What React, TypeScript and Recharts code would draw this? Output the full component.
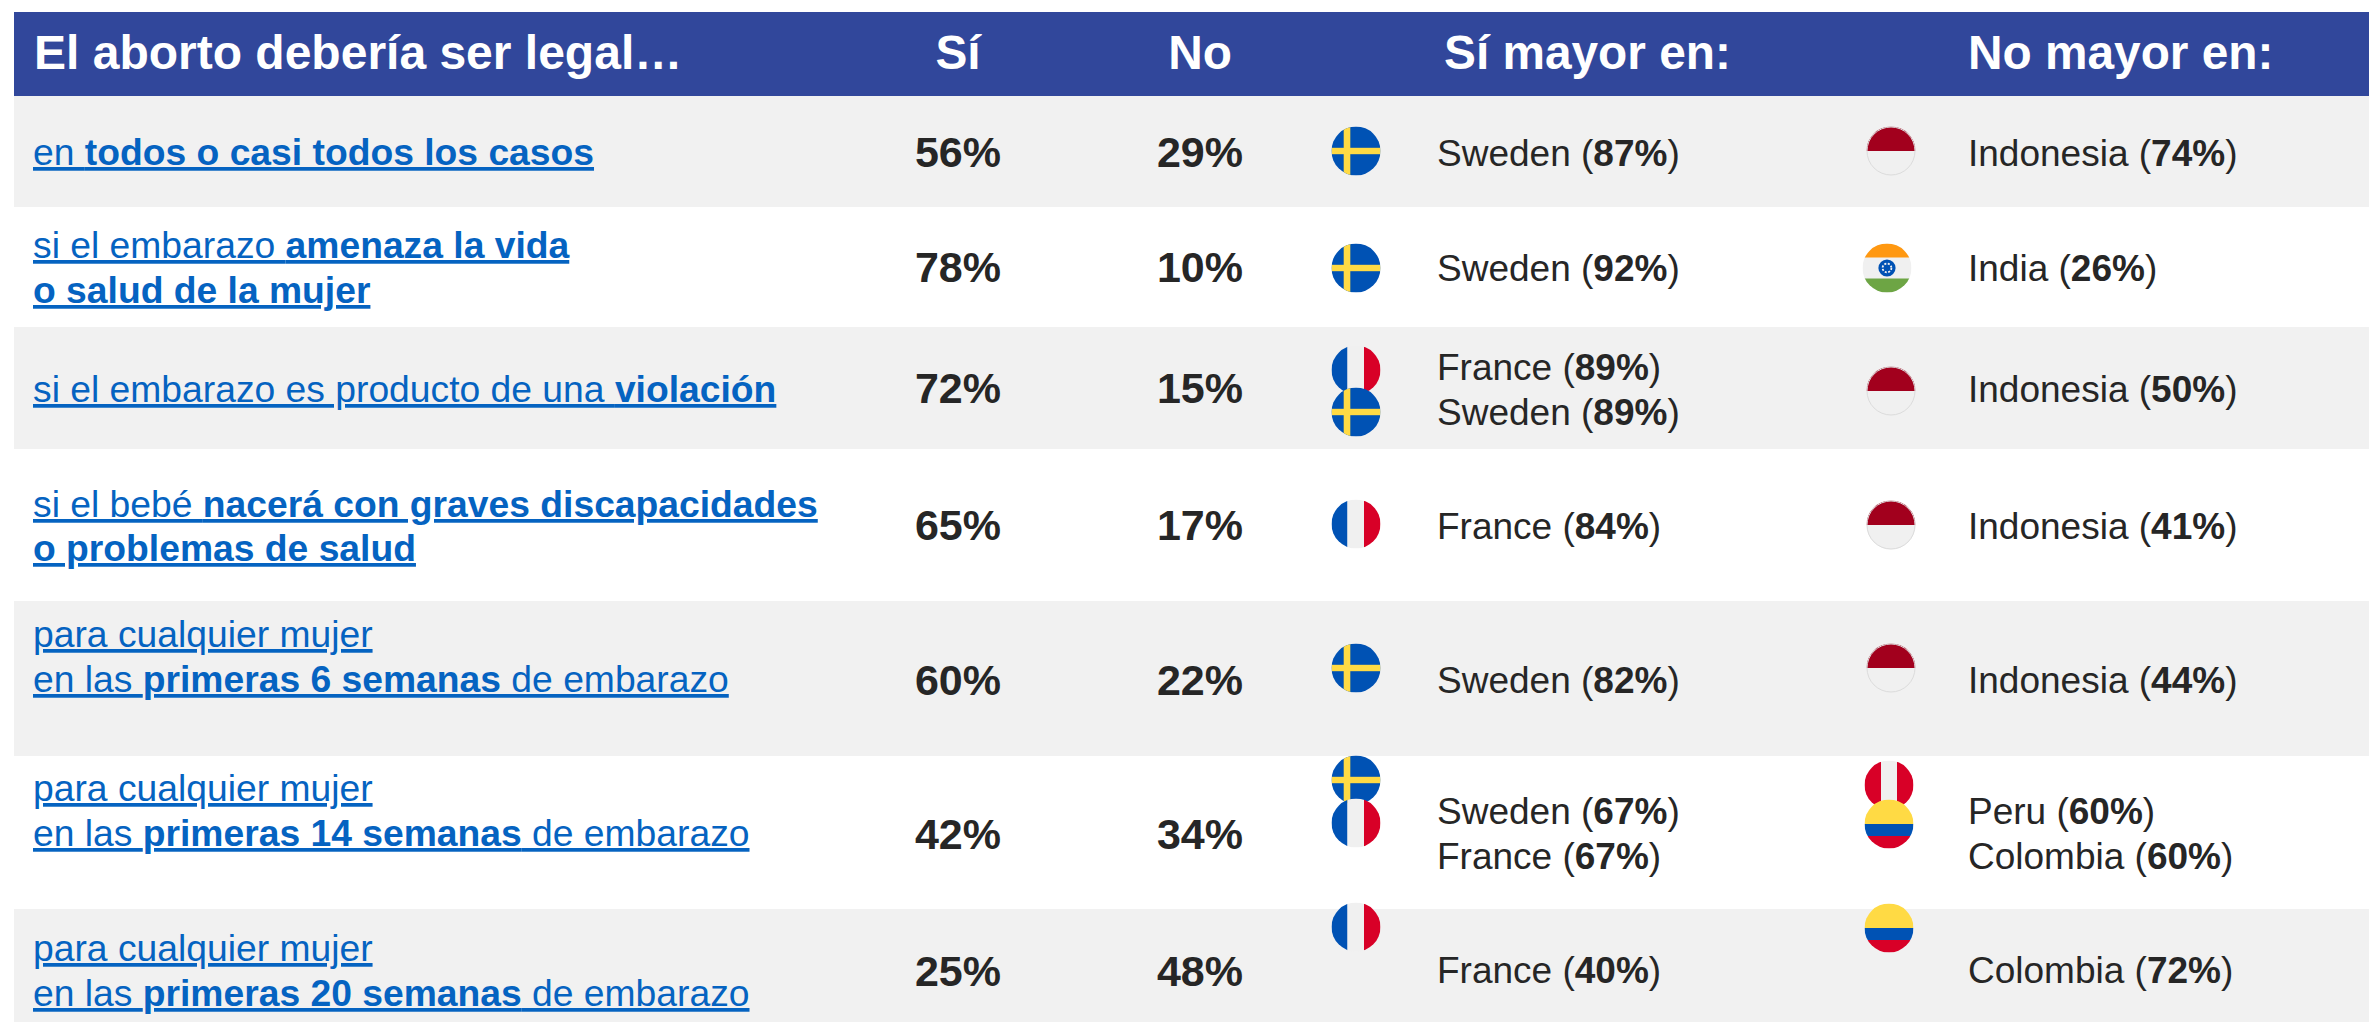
import { ScatterChart, Scatter, XAxis, YAxis, ReferenceArea } from 'recharts';

// ** marks the bold part of a label
const rowLabels = [
  ['en **todos o casi todos los casos**'],
  ['si el embarazo **amenaza la vida**', '**o salud de la mujer**'],
  ['si el embarazo es producto de una **violación**'],
  ['si el bebé **nacerá con graves discapacidades**', '**o problemas de salud**'],
  ['para cualquier mujer', 'en las **primeras 6 semanas** de embarazo'],
  ['para cualquier mujer', 'en las **primeras 14 semanas** de embarazo'],
  ['para cualquier mujer', 'en las **primeras 20 semanas** de embarazo'],
];
const siValues = [56, 78, 72, 65, 60, 42, 25];
const noValues = [29, 10, 15, 17, 22, 34, 48];
const siCountries = [
  [['Sweden', 87]],
  [['Sweden', 92]],
  [['France', 89], ['Sweden', 89]],
  [['France', 84]],
  [['Sweden', 82]],
  [['Sweden', 67], ['France', 67]],
  [['France', 40]],
];
const noCountries = [
  [['Indonesia', 74]],
  [['India', 26]],
  [['Indonesia', 50]],
  [['Indonesia', 41]],
  [['Indonesia', 44]],
  [['Peru', 60], ['Colombia', 60]],
  [['Colombia', 72]],
];

// layout of the table, in picture pixels
const W = 2369;
const H = 1022;
const LEFT = 14;
const HEADER = [12, 96];
const ROW_EDGES = [96, 207, 327, 449, 601, 756, 909, 1022];
const LABEL_Y = [[165], [258, 303], [402], [517, 561], [647, 692], [801, 846], [961, 1006]];
const VALUE_Y = [167, 282, 403, 540, 695, 849, 986];
const SI_TEXT_Y = [[166], [281], [380, 425], [539], [693], [824, 869], [983]];
const NO_TEXT_Y = [[166], [281], [402], [539], [693], [824, 869], [983]];
const SI_FLAG_Y = [[151], [268], [370, 412], [524], [668], [780, 823], [927]];
const NO_FLAG_Y = [[151], [268], [391], [525], [668], [785, 824], [928]];
const NO_FLAG_X: Record<string, number> = { Indonesia: 1891, India: 1887, Peru: 1889, Colombia: 1889 };

const BLUE = '#0052b4';
const WHITE = '#f0f0f0';
const RED = '#d80027';
const YELLOW = '#ffda44';
const FONT = '"Liberation Sans", Arial, sans-serif';
const R = 24.5;

const headerPoints = [
  { x: 34, y: 69, text: 'El aborto debería ser legal…', anchor: 'start', size: 48 },
  { x: 958, y: 69, text: 'Sí', anchor: 'middle', size: 47.8 },
  { x: 1200, y: 69, text: 'No', anchor: 'middle', size: 47.8 },
  { x: 1444, y: 69, text: 'Sí mayor en:', anchor: 'start', size: 47.8 },
  { x: 1968, y: 69, text: 'No mayor en:', anchor: 'start', size: 47.8 },
];
const labelPoints = rowLabels.flatMap((lines, i) =>
  lines.map((text, j) => ({ x: 33, y: LABEL_Y[i][j], text })),
);
const valuePoints = [
  ...siValues.map((v, i) => ({ x: 958, y: VALUE_Y[i], value: v })),
  ...noValues.map((v, i) => ({ x: 1200, y: VALUE_Y[i], value: v })),
];
const countryPoints = [
  ...siCountries.flatMap((list, i) =>
    list.map(([name, value], j) => ({ x: 1437, y: SI_TEXT_Y[i][j], name, value })),
  ),
  ...noCountries.flatMap((list, i) =>
    list.map(([name, value], j) => ({ x: 1968, y: NO_TEXT_Y[i][j], name, value })),
  ),
];
const flagPoints = [
  ...siCountries.flatMap((list, i) =>
    list.map(([name], j) => ({ x: 1356, y: SI_FLAG_Y[i][j], name })),
  ),
  ...noCountries.flatMap((list, i) =>
    list.map(([name], j) => ({ x: NO_FLAG_X[name as string], y: NO_FLAG_Y[i][j], name })),
  ),
];

function HeaderText({ cx, cy, payload }: any) {
  return (
    <text x={cx} y={cy} textAnchor={payload.anchor} fill="#fff" fontFamily={FONT} fontWeight={700} fontSize={payload.size}>
      {payload.text}
    </text>
  );
}

function RowLabel({ cx, cy, payload }: any) {
  const parts = payload.text.split('**');
  return (
    <text
      x={cx}
      y={cy}
      fill="#0563c1"
      fontFamily={FONT}
      fontSize={37.25}
      xmlSpace="preserve"
      style={{ textDecoration: 'underline', textDecorationSkipInk: 'none', textDecorationThickness: 3, whiteSpace: 'pre' }}
    >
      {parts.map((p: string, i: number) => (
        <tspan key={i} fontWeight={i % 2 ? 700 : 400}>{p}</tspan>
      ))}
    </text>
  );
}

function ValueText({ cx, cy, payload }: any) {
  return (
    <text x={cx} y={cy} textAnchor="middle" fill="#262626" fontFamily={FONT} fontWeight={700} fontSize={43}>
      {payload.value}%
    </text>
  );
}

function CountryText({ cx, cy, payload }: any) {
  return (
    <text x={cx} y={cy} fill="#262626" fontFamily={FONT} fontSize={37} style={{ whiteSpace: 'pre' }}>
      {payload.name} (<tspan fontWeight={700}>{payload.value}%</tspan>)
    </text>
  );
}

function Flag({ cx, cy, payload }: any) {
  const id = `clip-${payload.name}-${Math.round(cx)}-${Math.round(cy)}`;
  const band = (y0: number, y1: number, fill: string) => (
    <rect x={-R} y={y0} width={R * 2} height={y1 - y0} fill={fill} />
  );
  const stripe = (x0: number, x1: number, fill: string) => (
    <rect x={x0} y={-R} width={x1 - x0} height={R * 2} fill={fill} />
  );
  let body = null;
  if (payload.name === 'Sweden') {
    body = <>{band(-R, R, BLUE)}{stripe(-12.3, -5.7, YELLOW)}{band(-3.2, 3.2, YELLOW)}</>;
  } else if (payload.name === 'France') {
    body = <>{stripe(-R, -8.5, BLUE)}{stripe(-8.5, 8, WHITE)}{stripe(8, R, RED)}</>;
  } else if (payload.name === 'Indonesia') {
    body = <>{band(-R, 0, '#a2001d')}{band(0, R, WHITE)}</>;
  } else if (payload.name === 'India') {
    body = (
      <>
        {band(-R, R, WHITE)}{band(-R, -10.5, '#ff9811')}{band(10.5, R, '#6da544')}
        <circle r={8.6} fill={BLUE} />
        <circle r={4.4} fill="none" stroke={WHITE} strokeWidth={1.8} strokeDasharray="2 1.5" />
      </>
    );
  } else if (payload.name === 'Peru') {
    body = <>{stripe(-R, -8, RED)}{stripe(-8, 8, WHITE)}{stripe(8, R, RED)}</>;
  } else {
    body = <>{band(-R, 0, YELLOW)}{band(0, 12, BLUE)}{band(12, R, RED)}</>;
  }
  return (
    <g transform={`translate(${cx},${cy})`}>
      <clipPath id={id}><circle r={R} /></clipPath>
      <g clipPath={`url(#${id})`}>{body}</g>
      {payload.name === 'Indonesia' && <circle r={R - 0.5} fill="none" stroke="#dcdcdc" strokeWidth={1} />}
    </g>
  );
}

export default function App() {
  return (
    <div style={{ position: 'absolute', left: 0, top: 0, width: W, height: H, overflow: 'hidden', background: '#fff' }}>
      <ScatterChart width={W} height={H} margin={{ top: 0, right: 0, bottom: 0, left: 0 }}>
        <XAxis type="number" dataKey="x" domain={[0, W]} hide allowDataOverflow />
        <YAxis type="number" dataKey="y" domain={[0, H]} reversed hide allowDataOverflow />
        <ReferenceArea x1={LEFT} x2={W} y1={HEADER[0]} y2={HEADER[1]} fill="#31479b" fillOpacity={1} stroke="none" />
        {ROW_EDGES.slice(0, -1).map((edge, i) =>
          i % 2 === 0 ? (
            <ReferenceArea key={i} x1={LEFT} x2={W} y1={edge} y2={ROW_EDGES[i + 1]} fill="#f1f1f1" fillOpacity={1} stroke="none" />
          ) : null,
        )}
        <Scatter data={headerPoints} shape={HeaderText} isAnimationActive={false} />
        <Scatter data={labelPoints} shape={RowLabel} isAnimationActive={false} />
        <Scatter data={valuePoints} shape={ValueText} isAnimationActive={false} />
        <Scatter data={flagPoints} shape={Flag} isAnimationActive={false} />
        <Scatter data={countryPoints} shape={CountryText} isAnimationActive={false} />
      </ScatterChart>
    </div>
  );
}
